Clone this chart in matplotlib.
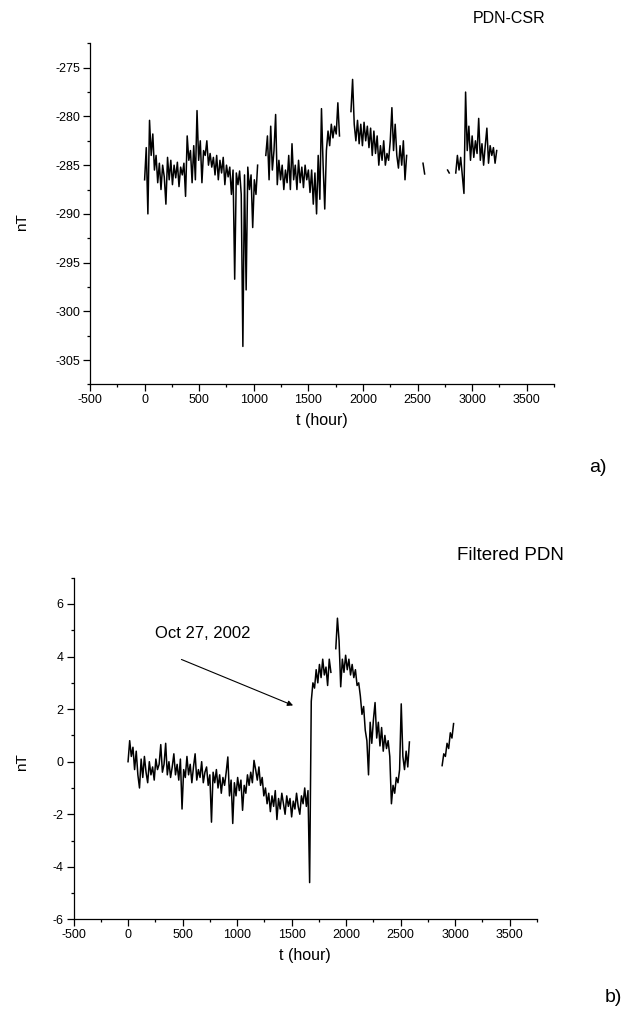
import numpy as np
import matplotlib
matplotlib.use('Agg')
from matplotlib import pyplot as plt
from matplotlib.ticker import MultipleLocator

plt.rcParams['font.family'] = ['Liberation Sans', 'DejaVu Sans']
plt.rcParams['axes.unicode_minus'] = False

# sampling step of the read-off series (hours)
step = 15
nan = np.nan

# a) PDN-CSR raw series, nT, every 15 h from t=0 (nan = no data)
pdn_csr = [
    -286.5, -283.2, -290.0, -280.4, -284.0, -281.8, -285.5, -284.0, -286.8, -284.8,
    -287.5, -285.0, -286.2, -289.0, -284.2, -286.5, -284.5, -287.0, -285.0, -286.3,
    -284.7, -287.2, -285.2, -286.0, -284.8, -288.2, -282.0, -284.5, -283.5, -286.8,
    -283.0, -286.5, -279.4, -284.5, -282.5, -286.8, -283.5, -284.0, -282.5, -285.0,
    -283.8, -285.2, -284.2, -286.0, -284.0, -286.5, -284.5, -285.8, -284.2, -287.0,
    -285.0, -286.2, -285.2, -288.0, -285.5, -296.7, -285.8, -287.0, -285.6, -288.0,
    -303.6, -286.0, -297.8, -285.2, -287.5, -286.0, -291.4, -286.5, -288.0, -285.0,
    nan, nan, nan, nan,
    -284.0, -282.0, -286.5, -281.0, -285.5, -283.5, -279.8, -287.0, -284.5, -286.5,
    -285.0, -287.5, -285.5, -286.8, -284.0, -287.5, -282.8, -286.5, -285.0, -287.5,
    -284.5, -286.8, -285.2, -287.3, -285.0, -286.5, -285.5, -287.8, -285.5, -289.0,
    -285.8, -290.0, -284.0, -288.5, -279.2, -285.0, -289.5, -283.5, -281.5, -283.0,
    -280.8, -282.2, -281.0, -281.8, -278.6, -282.0,
    nan, nan, nan, nan, nan, nan,
    -279.5, -276.2, -280.8, -282.5, -280.4, -282.8, -280.8, -283.0, -280.6, -282.5,
    -281.0, -283.2, -281.2, -284.0, -281.5, -283.8, -282.0, -285.0, -283.0, -284.5,
    -282.5, -285.0, -283.8, -284.5, -282.5, -279.1, -283.5, -280.8, -284.0, -285.3,
    -283.0, -285.0, -282.5, -286.5, -284.0,
    nan, nan, nan, nan, nan, nan, nan, nan, nan,
    -284.8, -285.9,
    nan, nan, nan, nan, nan, nan, nan, nan, nan, nan, nan, nan, nan,
    -285.5, -285.8,
    nan, nan, nan,
    -285.8, -284.0, -285.5, -284.2, -286.0, -287.9, -277.5, -283.5, -281.0, -284.5,
    -282.0, -284.2, -282.5, -283.8, -280.2, -284.5, -282.8, -285.0, -283.0, -281.2,
    -284.8, -283.0, -284.0, -283.2, -284.8, -283.5,
]

# b) filtered PDN, nT, every 15 h from t=0
pdn_filtered = [
    0.0, 0.8, 0.2, 0.55, -0.3, 0.4, -0.5, -1.0, 0.1, -0.6,
    0.2, -0.4, -0.8, 0.0, -0.5, -0.2, -0.7, 0.1, -0.3, -0.1,
    0.65, -0.4, -0.1, 0.7, -0.5, 0.0, -0.6, -0.2, 0.3, -0.5,
    -0.1, -0.7, 0.1, -1.8, -0.3, -0.6, 0.2, -0.5, -0.1, -0.8,
    -0.2, 0.3, -0.7, -0.3, -0.6, 0.0, -0.8, -0.4, -0.2, -0.9,
    -0.5, -2.3, -0.4, -0.8, -0.3, -1.0, -0.5, -1.2, -0.6, -0.9,
    -0.4, 0.18, -1.3, -0.7, -2.35, -0.8, -1.3, -0.6, -1.1, -0.7,
    -1.85, -0.9, -1.2, -0.5, -0.9, -0.4, -0.8, 0.05, -0.3, -0.7,
    -0.2, -0.9, -0.6, -1.3, -1.0, -1.6, -1.2, -1.9, -1.3, -1.7,
    -1.1, -2.2, -1.4, -1.8, -1.2, -1.6, -2.0, -1.3, -1.7, -1.4,
    -2.1, -1.5, -1.8, -1.2, -1.7, -2.0, -1.3, -1.6, -1.0, -1.7,
    -1.1, -4.6, 2.3, 3.0, 2.8, 3.5, 3.0, 3.7, 3.2, 3.9,
    3.3, 3.6, 2.9, 3.9, 3.4,
    nan, nan,
    4.3, 5.46, 4.6, 2.85, 3.9, 3.4, 4.05, 3.5, 3.9, 3.3,
    3.7, 3.2, 3.5, 2.9, 3.0, 2.5, 1.8, 2.1, 1.2, 0.8,
    -0.5, 1.5, 0.7, 1.6, 2.25, 0.9, 1.5, 0.6, 1.3, 0.4,
    1.0, 0.5, 0.8, 0.2, -1.6, -0.9, -1.2, -0.6, -0.8, -0.3,
    2.2, 0.2, -0.3, 0.4, -0.2, 0.75,
    nan, nan, nan, nan, nan, nan, nan, nan, nan, nan,
    nan, nan, nan, nan, nan, nan, nan, nan, nan,
    -0.15, 0.3, 0.2, 0.7, 0.5, 1.1, 0.9, 1.45,
]

t_a = np.arange(len(pdn_csr)) * step
t_b = np.arange(len(pdn_filtered)) * step

fig = plt.figure(figsize=(6.3, 10.13), dpi=100)
ax1 = fig.add_axes([0.1429, 0.6205, 0.7365, 0.3367])
ax2 = fig.add_axes([0.1167, 0.0924, 0.7357, 0.3373])

ax1.plot(t_a, pdn_csr, color='black', lw=1.1)
ax2.plot(t_b, pdn_filtered, color='black', lw=1.1)

ax1.set_ylim(-307.5, -272.5)
ax1.yaxis.set_major_locator(MultipleLocator(5))
ax1.yaxis.set_minor_locator(MultipleLocator(2.5))
ax2.set_ylim(-6, 7)
ax2.yaxis.set_major_locator(MultipleLocator(2))
ax2.yaxis.set_minor_locator(MultipleLocator(1))

for ax in (ax1, ax2):
    ax.set_xlim(-500, 3750)
    ax.xaxis.set_major_locator(MultipleLocator(500))
    ax.xaxis.set_minor_locator(MultipleLocator(250))
    ax.spines['top'].set_visible(False)
    ax.spines['right'].set_visible(False)
    ax.spines['left'].set_linewidth(0.9)
    ax.spines['bottom'].set_linewidth(0.9)
    ax.tick_params(which='major', direction='out', length=5, width=0.9, labelsize=9, pad=2)
    ax.tick_params(which='minor', direction='out', length=2.5, width=0.9)
    ax.set_xlabel('t (hour)', fontsize=11.5, labelpad=5)

fig.text(21.7 / 630, 1 - 221.7 / 1013, 'nT', rotation=90, fontsize=11, ha='center', va='center')
fig.text(21.7 / 630, 1 - 762 / 1013, 'nT', rotation=90, fontsize=11, ha='center', va='center')

fig.text(509.5 / 630, 1 - 18.3 / 1013, 'PDN-CSR', fontsize=11.5, ha='center', va='center')
fig.text(510 / 630, 1 - 555 / 1013, 'Filtered PDN', fontsize=13.5, ha='center', va='center')
fig.text(598 / 630, 1 - 467 / 1013, 'a)', fontsize=14, ha='center', va='center')
fig.text(613 / 630, 1 - 997 / 1013, 'b)', fontsize=14, ha='center', va='center')

ax2.annotate('', xy=(1537, 2.1), xytext=(466, 3.93),
             arrowprops=dict(arrowstyle='-|>', color='black', lw=0.8, mutation_scale=8))
ax2.text(688, 4.88, 'Oct 27, 2002', fontsize=12, ha='center', va='center')

fig.savefig('out.png', dpi=100)
